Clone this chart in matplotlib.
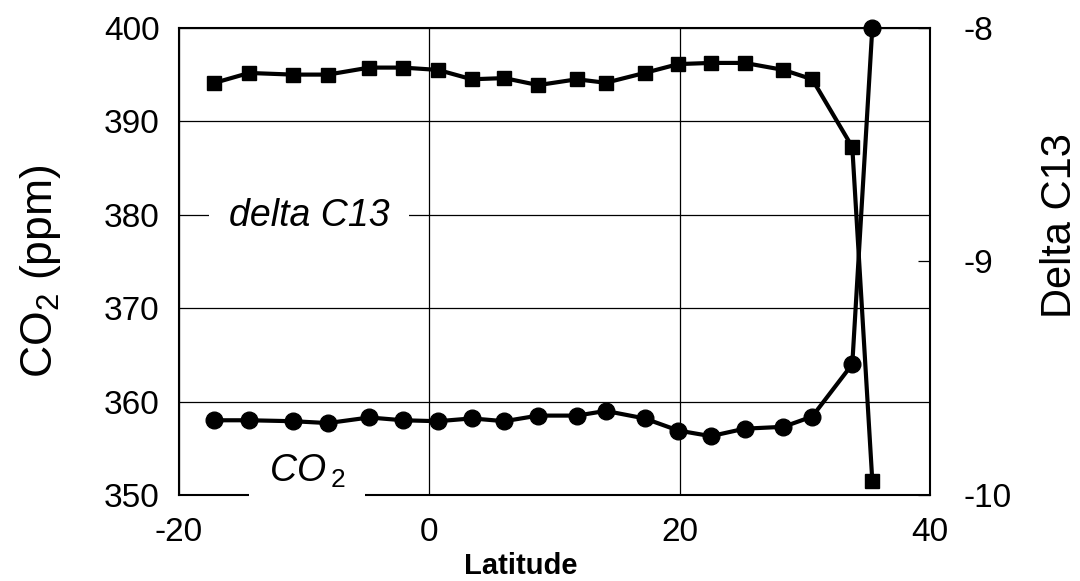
import matplotlib
matplotlib.use("Agg")
import matplotlib.pyplot as plt

plt.rcParams['font.family'] = ['Liberation Sans', 'DejaVu Sans']
plt.rcParams['mathtext.fontset'] = 'custom'
plt.rcParams['mathtext.rm'] = 'Liberation Sans'
plt.rcParams['mathtext.it'] = 'Liberation Sans:italic'

# Latitude of each station
latitude = [-17.2, -14.4, -10.9, -8.1, -4.8, -2.1, 0.7, 3.4, 6.0, 8.7,
            11.8, 14.1, 17.2, 19.9, 22.5, 25.2, 28.3, 30.6, 33.8, 35.4]

# CO2 (ppm), left axis
co2 = [358.0, 358.0, 357.9, 357.7, 358.3, 358.0, 357.9, 358.2, 357.9, 358.5,
       358.5, 359.0, 358.2, 356.9, 356.3, 357.1, 357.3, 358.4, 364.0, 400.0]

# delta C13, right axis
delta_c13 = [-8.236, -8.193, -8.20, -8.20, -8.17, -8.17, -8.18, -8.22, -8.215, -8.245,
             -8.22, -8.235, -8.193, -8.155, -8.15, -8.15, -8.18, -8.22, -8.51, -9.94]

x_ticks = [-20, 0, 20, 40]
left_ticks = [350, 360, 370, 380, 390, 400]
right_ticks = [-10, -9, -8]

fig = plt.figure(figsize=(10.8, 5.81), dpi=100)
ax = fig.add_axes([0.1657, 0.148, 0.6953, 0.804])
ax2 = ax.twinx()

ax.plot(latitude, co2, color='black', lw=3, marker='o', ms=12,
        clip_on=False, zorder=5)
ax2.plot(latitude, delta_c13, color='black', lw=3, marker='s', ms=10,
         clip_on=False, zorder=5)

ax.set_xlim(-20, 40)
ax.set_ylim(350, 400)
ax2.set_ylim(-10, -8)
ax.set_xticks(x_ticks)
ax.set_yticks(left_ticks)
ax2.set_yticks(right_ticks)
ax.set_xticklabels([str(v) for v in x_ticks])
ax2.set_yticklabels([str(v) for v in right_ticks])

ax.grid(True, color='black', lw=0.9)
ax.set_axisbelow(True)

ax.tick_params(axis='both', length=0, labelsize=24)
ax.tick_params(axis='y', pad=14)
ax.tick_params(axis='x', pad=16)
ax2.tick_params(axis='y', direction='in', length=9, width=0.9,
                labelsize=24, pad=24)

for s in ['left', 'bottom', 'top']:
    ax.spines[s].set_linewidth(1.5)
ax.spines['right'].set_visible(False)
for s in ['left', 'bottom', 'top']:
    ax2.spines[s].set_visible(False)
ax2.spines['right'].set_linewidth(1.5)

ax.set_ylabel('CO$_\\mathregular{2}$ (ppm)', fontsize=32)
ax.yaxis.set_label_coords(-0.155, 0.48)
ax2.set_ylabel('Delta C13', fontsize=30)
ax2.yaxis.set_label_coords(1.146, 0.576)
ax.set_xlabel('Latitude', fontsize=21, fontweight='bold')
ax.xaxis.set_label_coords(0.455, -0.122)

ax2.text(0.173, 0.597, 'delta C13', transform=ax.transAxes, fontsize=27,
         style='italic', ha='center', va='center', zorder=10,
         bbox=dict(facecolor='white', edgecolor='none', pad=14))
ax2.text(0.171, 0.05, 'CO$\\,_{\\mathit{2}}$', transform=ax.transAxes, fontsize=27,
         style='italic', ha='center', va='center', zorder=10, clip_on=False,
         bbox=dict(facecolor='white', edgecolor='none', pad=14))

fig.savefig('out.png', dpi=100)
